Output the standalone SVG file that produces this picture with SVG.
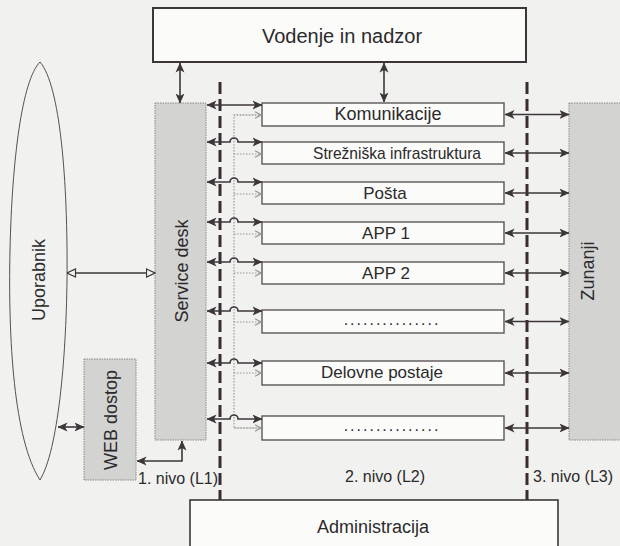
<svg xmlns="http://www.w3.org/2000/svg" width="620" height="546" viewBox="0 0 620 546">
<defs>
<style>
.t{font-family:"Liberation Sans",Arial,Helvetica,sans-serif;fill:#2b2a2b;}
.box{fill:#fbfbfa;stroke:#5c5658;stroke-width:1.4;}
.gbox{fill:#d3d3d2;stroke:#8a8888;stroke-width:1;stroke-dasharray:1.5 1;}
.ln{fill:none;stroke:#3d3638;stroke-width:1.6;}
.dash{fill:none;stroke:#3a2d32;stroke-width:3;stroke-dasharray:12 5;}
.dot{fill:none;stroke:#9a9899;stroke-width:1.2;stroke-dasharray:1.5 1.5;}
</style>
<pattern id="stip" width="3" height="3" patternUnits="userSpaceOnUse">
<rect width="3" height="3" fill="#d4d4d3"/>
<rect x="0" y="0" width="1" height="1" fill="#c2c2c1"/>
<rect x="1.5" y="1.5" width="1" height="1" fill="#dcdcdb"/>
</pattern>
<marker id="a" viewBox="0 0 10 10" refX="9.5" refY="5" markerWidth="10" markerHeight="10" markerUnits="userSpaceOnUse" orient="auto-start-reverse">
<path d="M0,0.5 L10,5 L0,9.5 L2.5,5 z" fill="#3d3638"/>
</marker>
<marker id="o" viewBox="0 0 10 10" refX="9.5" refY="5" markerWidth="10" markerHeight="10" markerUnits="userSpaceOnUse" orient="auto-start-reverse">
<path d="M1,1 L9.5,5 L1,9 z" fill="#f4f4f2" stroke="#3d3638" stroke-width="1.2"/>
</marker>
<marker id="g" viewBox="0 0 10 10" refX="9.5" refY="5" markerWidth="8" markerHeight="8" markerUnits="userSpaceOnUse" orient="auto">
<path d="M2,1 L9.5,5 L2,9" fill="none" stroke="#9a9899" stroke-width="1.6"/>
</marker>
</defs>
<rect width="620" height="546" fill="#f1f1ef"/>

<g id="uporabnik">
<path d="M40,62 C22,80 12,160 10,250 C8,340 14,440 40,480 C58,450 66,360 67,280 C68,180 60,85 40,62 Z" fill="none" stroke="#5a4e53" stroke-width="1"/>
<text class="t" font-size="18" text-anchor="middle" x="45" y="280" transform="rotate(-90 45 280)">Uporabnik</text>
</g>

<g id="vodenje">
<rect x="153" y="8" width="373" height="54" fill="#fbfbfa" stroke="#3d3638" stroke-width="2"/>
<text class="t" font-size="20" text-anchor="middle" x="342" y="43">Vodenje in nadzor</text>
</g>

<g id="servicedesk">
<rect class="gbox" x="155" y="103" width="51" height="337" fill="url(#stip)"/>
<text class="t" font-size="18" text-anchor="middle" x="188" y="271" transform="rotate(-90 188 271)">Service desk</text>
</g>

<g id="webdostop">
<rect class="gbox" x="84" y="359" width="52" height="121" fill="url(#stip)"/>
<text class="t" font-size="18" text-anchor="middle" x="117" y="420" transform="rotate(-90 117 420)">WEB dostop</text>
</g>

<g id="zunanji">
<rect class="gbox" x="569" y="103" width="55" height="337" fill="url(#stip)"/>
<text class="t" font-size="18" text-anchor="middle" x="594" y="271" transform="rotate(-90 594 271)">Zunanji</text>
</g>

<g id="komunikacije"><rect class="box" x="262" y="103" width="242" height="23"/><text class="t" font-size="18" text-anchor="middle" x="388" y="120">Komunikacije</text></g>
<g id="streznisko"><rect class="box" x="262" y="142" width="242" height="22"/><text class="t" font-size="17" text-anchor="middle" x="397" y="159" textLength="168" lengthAdjust="spacingAndGlyphs">Strežniška infrastruktura</text></g>
<g id="posta"><rect class="box" x="262" y="182" width="242" height="22"/><text class="t" font-size="17" text-anchor="middle" x="385" y="199">Pošta</text></g>
<g id="app1"><rect class="box" x="262" y="222" width="242" height="22"/><text class="t" font-size="17" text-anchor="middle" x="386" y="239">APP 1</text></g>
<g id="app2"><rect class="box" x="262" y="262" width="242" height="22"/><text class="t" font-size="17" text-anchor="middle" x="386" y="279">APP 2</text></g>
<g id="dots1"><rect class="box" x="262" y="310" width="242" height="23"/><text class="t" font-size="16" text-anchor="middle" letter-spacing="2" x="392" y="325">...............</text></g>
<g id="delovne"><rect class="box" x="262" y="361" width="242" height="24"/><text class="t" font-size="17" text-anchor="middle" x="382" y="378">Delovne postaje</text></g>
<g id="dots2"><rect class="box" x="262" y="416" width="242" height="24"/><text class="t" font-size="16" text-anchor="middle" letter-spacing="2" x="392" y="431">...............</text></g>

<g id="administracija">
<rect x="190" y="500" width="368" height="60" fill="#fbfbfa" stroke="#3d3638" stroke-width="1.6"/>
<text class="t" font-size="18" text-anchor="middle" x="373" y="533">Administracija</text>
</g>

<g id="labels">
<text class="t" font-size="16" x="138" y="484">1. nivo (L1)</text>
<text class="t" font-size="16" x="345" y="482">2. nivo (L2)</text>
<text class="t" font-size="16" x="533" y="482">3. nivo (L3)</text>
</g>

<g id="connectors">
<line class="dash" x1="220" y1="82" x2="220" y2="500"/>
<line class="dash" x1="527" y1="82" x2="527" y2="500"/>

<line class="ln" x1="180" y1="63" x2="180" y2="103" marker-start="url(#a)" marker-end="url(#a)"/>
<line class="ln" x1="384" y1="63" x2="384" y2="102" marker-start="url(#a)" marker-end="url(#a)"/>

<line class="ln" x1="67" y1="273" x2="155" y2="273" marker-start="url(#o)" marker-end="url(#o)"/>
<line class="ln" x1="58" y1="427" x2="84" y2="427" marker-start="url(#a)" marker-end="url(#a)"/>
<path class="ln" d="M137,461 H182 V441" marker-start="url(#a)" marker-end="url(#a)"/>

<path class="dot" d="M262,115 H234 V428 H262"/>
<g class="dot">
<line x1="234" y1="115" x2="261" y2="115" marker-end="url(#g)"/>
<line x1="234" y1="154" x2="261" y2="154" marker-end="url(#g)"/>
<line x1="234" y1="194" x2="261" y2="194" marker-end="url(#g)"/>
<line x1="234" y1="234" x2="261" y2="234" marker-end="url(#g)"/>
<line x1="234" y1="273" x2="261" y2="273" marker-end="url(#g)"/>
<line x1="234" y1="322" x2="261" y2="322" marker-end="url(#g)"/>
<line x1="234" y1="373" x2="261" y2="373" marker-end="url(#g)"/>
<line x1="234" y1="428" x2="261" y2="428" marker-end="url(#g)"/>
</g>

<line class="ln" x1="207" y1="105" x2="262" y2="105" marker-start="url(#a)" marker-end="url(#a)"/>
<path class="ln" d="M207,142 H230 A4,4 0 0 1 238,142 H262" marker-start="url(#a)" marker-end="url(#a)"/>
<path class="ln" d="M207,182 H230 A4,4 0 0 1 238,182 H262" marker-start="url(#a)" marker-end="url(#a)"/>
<path class="ln" d="M207,222 H230 A4,4 0 0 1 238,222 H262" marker-start="url(#a)" marker-end="url(#a)"/>
<path class="ln" d="M207,262 H230 A4,4 0 0 1 238,262 H262" marker-start="url(#a)" marker-end="url(#a)"/>
<path class="ln" d="M207,311 H230 A4,4 0 0 1 238,311 H262" marker-start="url(#a)" marker-end="url(#a)"/>
<path class="ln" d="M207,363 H230 A4,4 0 0 1 238,363 H262" marker-start="url(#a)" marker-end="url(#a)"/>
<path class="ln" d="M207,419 H230 A4,4 0 0 1 238,419 H262" marker-start="url(#a)" marker-end="url(#a)"/>

<line class="ln" x1="505" y1="114.5" x2="569" y2="114.5" marker-start="url(#a)" marker-end="url(#a)"/>
<line class="ln" x1="505" y1="153" x2="569" y2="153" marker-start="url(#a)" marker-end="url(#a)"/>
<line class="ln" x1="505" y1="193" x2="569" y2="193" marker-start="url(#a)" marker-end="url(#a)"/>
<line class="ln" x1="505" y1="233" x2="569" y2="233" marker-start="url(#a)" marker-end="url(#a)"/>
<line class="ln" x1="505" y1="273" x2="569" y2="273" marker-start="url(#a)" marker-end="url(#a)"/>
<line class="ln" x1="505" y1="321.5" x2="569" y2="321.5" marker-start="url(#a)" marker-end="url(#a)"/>
<line class="ln" x1="505" y1="373" x2="569" y2="373" marker-start="url(#a)" marker-end="url(#a)"/>
<line class="ln" x1="505" y1="428" x2="569" y2="428" marker-start="url(#a)" marker-end="url(#a)"/>
</g>
</svg>
